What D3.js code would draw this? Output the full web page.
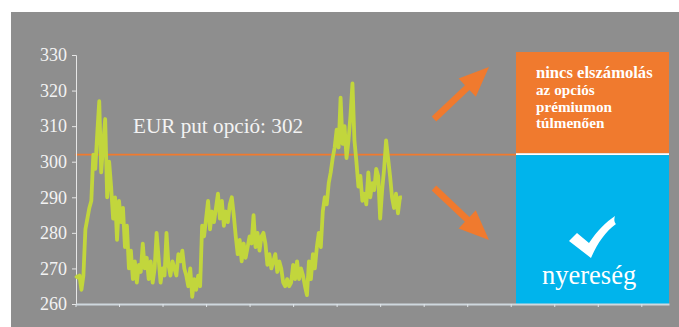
<!DOCTYPE html>
<html><head><meta charset="utf-8">
<script src="https://cdn.jsdelivr.net/npm/d3@7"></script>
<style>html,body{margin:0;padding:0;background:#fff;}svg{display:block;}
.serif{font-family:"Liberation Serif","Times New Roman",Times,"DejaVu Serif",serif;}</style>
</head><body>
<svg id="chart" width="679" height="327"></svg>
<script>
// ---- data ----
const yTicks = [260, 270, 280, 290, 300, 310, 320, 330];
const xTickDays = [0, 22, 44, 66, 88, 110, 132, 154, 176, 198, 220, 242, 264, 286];
const strike = 302;
const strikeLabel = "EUR put opció: 302";
const rate = [
 268,267.5,268,264,268,281,284,287,289,302,
 298,308,317,297,305,312,290,300,293,284,
 290,278,289,283,287,276,282,270,275,267,
 272,266,271,269,277,270,273,267,272,266,
 270,280,273,266,270,268,280,271,268,272,
 270,268,274,272,275,270,268,265,270,262,
 267,264,268,265,282,279,284,289,281,286,
 283,287,291,284,289,282,286,283,288,290,
 285,279,274,278,272,277,273,276,279,277,
 285,276,280,275,279,280,277,271,274,270,
 272,274,269,272,270,266,265,267,265,266,
 271,267,272,267,270,268,265,262.5,272,267,
 274,270,276,280,276,286,290,288,294,297,
 301,304,309,304,318,305,310,301,306,313,
 322,306,300,293,296,289,291,288,297,290,
 294,292,298,296,284,292,298,306,301,296,
 290,287,291,285.5,290,290
];
const upperText = ["nincs elszámolás", "az opciós", "prémiumon", "túlmenően"];
const lowerText = "nyereség";

// ---- drawing ----
const svg = d3.select("#chart");
const C = {bg:"#8e8e8e", line:"#c2d63c", orange:"#f07a2e", blue:"#00b4ec", text:"#f3f3f3"};

svg.append("rect").attr("x",11).attr("y",12).attr("width",668).attr("height",315).attr("fill",C.bg);

const x = d3.scaleLinear().domain([0,300]).range([75.5,669]);
const y = d3.scaleLinear().domain([260,330]).range([304,55]);

// strike line
svg.append("line").attr("x1",x(0)).attr("x2",x(300)).attr("y1",y(strike)).attr("y2",y(strike))
  .attr("stroke",C.orange).attr("stroke-width",1.6);

// boxes
const bx = 516, bw = 669-516;
svg.append("rect").attr("x",bx).attr("y",52).attr("width",bw).attr("height",y(strike)-1.5-52).attr("fill",C.orange);
svg.append("rect").attr("x",bx).attr("y",y(strike)+0.5).attr("width",bw).attr("height",304-(y(strike)+0.5)).attr("fill",C.blue);
svg.append("line").attr("x1",bx).attr("x2",bx+bw).attr("y1",y(strike)-0.5).attr("y2",y(strike)-0.5)
  .attr("stroke","#ffffff").attr("stroke-width",1.6);

// y axis
const yAxis = svg.append("g").attr("transform","translate(76,0)")
  .call(d3.axisLeft(y).tickValues(yTicks).tickSize(4).tickPadding(5).tickFormat(d3.format("d")));
yAxis.attr("font-family",null).attr("font-size",null);
yAxis.select(".domain").attr("stroke","#e6e6e6").attr("stroke-width",1);
yAxis.selectAll(".tick line").attr("stroke","#e6e6e6");
yAxis.selectAll(".tick text").attr("class","serif").attr("fill",C.text)
  .style("font-size","18px");

// x axis
const xAxis = svg.append("g").attr("transform","translate(0,304)")
  .call(d3.axisBottom(x).tickValues(xTickDays).tickSize(3).tickSizeOuter(0).tickFormat(""));
xAxis.select(".domain").attr("stroke","#cfd8de").attr("stroke-width",2);
xAxis.selectAll(".tick line").attr("stroke","#e0e6ea");

// data line
const line = d3.line().x((d,i)=>x(i)).y(d=>y(d));
svg.append("path").datum(rate).attr("d",line).attr("fill","none")
  .attr("stroke",C.line).attr("stroke-width",3.8).attr("stroke-linejoin","round");

// strike label
svg.append("text").attr("class","serif").attr("x",133).attr("y",133).text(strikeLabel)
  .attr("fill",C.text).style("font-size","21.2px");

// arrows
function arrow(x0,y0,x1,y1){
  const dx=x1-x0, dy=y1-y0, L=Math.hypot(dx,dy), ux=dx/L, uy=dy/L, px=-uy, py=ux;
  const sw=3.3, hl=30, hw=12.5;
  const bx=x1-ux*hl, by=y1-uy*hl;
  const p=[[x0+px*sw,y0+py*sw],[bx+px*sw,by+py*sw],[bx+px*hw,by+py*hw],[x1,y1],
           [bx-px*hw,by-py*hw],[bx-px*sw,by-py*sw],[x0-px*sw,y0-py*sw]];
  return "M"+p.map(q=>q.join(",")).join("L")+"Z";
}
svg.append("path").attr("d",arrow(434,119,489,67)).attr("fill",C.orange);
svg.append("path").attr("d",arrow(434,188,489,240)).attr("fill",C.orange);

// upper box text
const sizes=[16.6,15.2,15.2,15.2], bases=[78,95,112,128];
upperText.forEach((t,i)=>{
  svg.append("text").attr("class","serif").attr("x",536).attr("y",bases[i]).text(t)
    .attr("fill","#ffffff").style("font-weight","bold").style("font-size",sizes[i]+"px");
});

// check mark
svg.append("path")
  .attr("d","M569,241 L577,233 L589,243 C597,231 606,222 615,216 C614,219 614,222 616,224 C605,232 597,244 591,258 Z")
  .attr("fill","#ffffff");

svg.append("text").attr("class","serif").attr("x",542).attr("y",284).text(lowerText)
  .attr("fill","#ffffff").style("font-size","26.5px");
</script>
</body></html>
